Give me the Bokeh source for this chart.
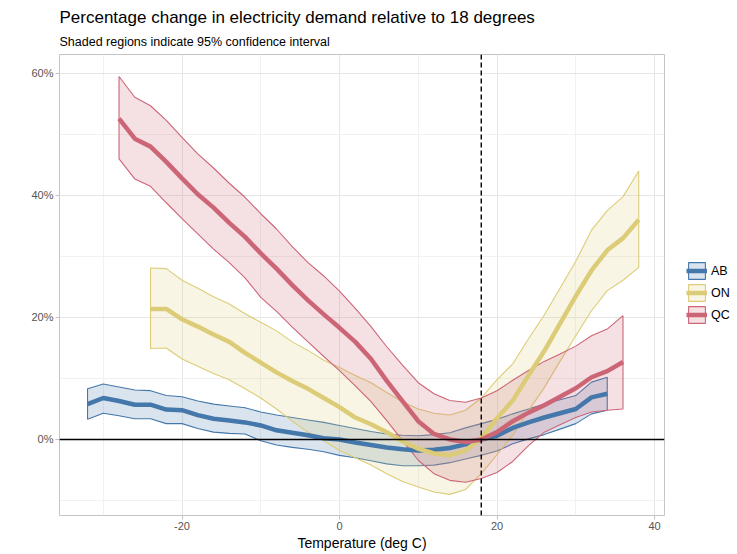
from bokeh.plotting import figure
from bokeh.models import (FixedTicker, PrintfTickFormatter, Span, Legend, LegendItem, Title)
from bokeh.embed import file_html
from bokeh.resources import INLINE

# ---------------- data ----------------
ab_temp = [-32, -30, -28, -26, -24, -22, -20, -18, -16, -14, -12, -10, -8, -6, -4, -2, 0,
           2, 4, 6, 8, 10, 12, 14, 16, 18, 20, 22, 24, 26, 28, 30, 32, 34]
ab_mean = [5.8, 6.8, 6.3, 5.7, 5.7, 4.9, 4.8, 4.0, 3.4, 3.1, 2.8, 2.3, 1.5, 1.1, 0.7, 0.2, 0.0,
           -0.5, -0.9, -1.3, -1.6, -1.8, -1.7, -1.4, -0.8, 0.0, 0.6, 1.9, 2.8, 3.6, 4.3, 5.0, 6.9, 7.5]
ab_upper = [8.3, 9.1, 8.6, 8.1, 8.0, 7.2, 7.0, 6.3, 5.8, 5.5, 5.2, 4.5, 4.0, 3.6, 3.2, 2.8, 2.3,
            1.8, 1.3, 0.9, 0.7, 0.6, 0.8, 1.1, 1.9, 2.6, 3.3, 4.2, 5.0, 5.8, 6.5, 7.2, 9.4, 10.2]
ab_lower = [3.3, 4.3, 3.9, 3.4, 3.4, 2.6, 2.6, 1.8, 1.2, 1.0, 0.9, -0.2, -0.9, -1.3, -1.6, -2.0, -2.6,
            -3.0, -3.5, -4.0, -4.3, -4.3, -4.2, -3.8, -3.2, -2.6, -1.9, -0.7, 0.1, 0.8, 1.7, 2.6, 4.2, 4.8]

on_temp = [-24, -22, -20, -18, -16, -14, -12, -10, -8, -6, -4, -2, 0,
           2, 4, 6, 8, 10, 12, 14, 16, 18, 20, 22, 24, 26, 28, 30, 32, 34, 36, 38]
on_mean = [21.4, 21.4, 19.7, 18.5, 17.2, 16.0, 14.2, 12.6, 11.0, 9.6, 8.3, 6.8, 5.3,
           3.6, 2.5, 1.2, -0.3, -1.5, -2.3, -2.6, -1.8, 0.2, 3.5, 6.4, 10.5, 14.5, 19.0, 23.5, 27.7, 31.0, 33.0, 36.0]
on_upper = [28.1, 28.0, 26.1, 24.8, 23.4, 22.2, 20.6, 19.2, 17.8, 16.0, 14.6, 13.0, 11.8,
            10.5, 9.3, 7.7, 6.2, 5.0, 4.3, 4.0, 4.8, 6.8, 9.8, 12.4, 16.5, 20.4, 24.8, 29.2, 34.3, 37.5, 39.8, 44.0]
on_lower = [14.9, 15.0, 13.2, 12.0, 10.8, 9.8, 8.3, 6.8, 5.0, 3.0, 1.2, -0.2, -1.8,
            -3.0, -4.2, -5.6, -6.9, -7.8, -8.6, -9.0, -8.2, -5.6, -2.5, 0.7, 4.7, 8.5, 12.8, 17.0, 21.1, 24.4, 26.1, 28.2]

qc_temp = [-28, -26, -24, -22, -20, -18, -16, -14, -12, -10, -8, -6, -4, -2, 0,
           2, 4, 6, 8, 10, 12, 14, 16, 18, 20, 22, 24, 26, 28, 30, 32, 34, 36]
qc_mean = [52.6, 49.3, 48.0, 45.5, 42.8, 40.2, 38.0, 35.5, 33.2, 30.5, 28.0, 25.3, 22.8, 20.5, 18.3,
           16.0, 13.2, 9.6, 6.3, 3.0, 0.9, 0.0, -0.4, 0.0, 1.2, 3.0, 4.4, 5.6, 7.0, 8.4, 10.2, 11.2, 12.7]
qc_upper = [59.5, 56.1, 54.7, 52.3, 49.5, 46.8, 44.5, 42.0, 39.7, 37.0, 34.5, 31.6, 29.0, 26.8, 24.3,
            21.5, 18.5, 15.2, 12.2, 9.3, 7.5, 6.4, 6.1, 6.8, 8.0, 9.7, 11.3, 12.8, 14.0, 15.3, 17.0, 18.1, 20.3]
qc_lower = [46.0, 42.7, 41.5, 38.8, 36.2, 33.7, 31.2, 29.0, 26.5, 23.3, 21.0, 18.4, 16.0, 13.6, 11.3,
            8.8, 6.2, 3.1, -0.2, -3.4, -5.6, -6.7, -7.0, -6.4, -5.4, -3.6, -1.0, 1.2, 2.4, 3.6, 4.5, 4.8, 5.0]

regions = ["AB", "ON", "QC"]
colors = ["#4477AA", "#DDCC77", "#CC6677"]

x_ticks = [-20, 0, 20, 40]
x_minor = [-30, -10, 10, 30]
y_ticks = [0, 20, 40, 60]
y_minor = [-10, 10, 30, 50]

reference_temp = 18

# ---------------- figure ----------------
FONT = "Liberation Sans"
p = figure(frame_width=605, frame_height=461, x_range=(-35.56, 41.27), y_range=(-12.46, 63.1),
           output_backend="svg", toolbar_location=None,
           min_border_left=59, min_border_right=72, min_border_top=54, min_border_bottom=38)
p.title = None

p.add_layout(Title(text="Shaded regions indicate 95% confidence interval", text_font=FONT,
                   text_font_size="12.5px", text_font_style="normal", text_color="#000000",
                   standoff=11, offset=0), "above")
p.add_layout(Title(text="Percentage change in electricity demand relative to 18 degrees", text_font=FONT,
                   text_font_size="17px", text_font_style="normal", text_color="#000000",
                   standoff=2, offset=0), "above")

p.background_fill_color = "white"
p.border_fill_color = "white"
p.outline_line_color = "#c4c4c4"
p.outline_line_width = 1

for ax in (p.xaxis[0], p.yaxis[0]):
    ax.axis_line_color = None
    ax.major_tick_line_color = "#c4c4c4"
    ax.major_tick_in = 0
    ax.major_tick_out = 4
    ax.minor_tick_line_color = None
    ax.major_label_text_font = FONT
    ax.major_label_text_font_size = "11px"
    ax.major_label_text_color = "#555555"
    ax.major_label_standoff = 2

p.xaxis.ticker = FixedTicker(ticks=x_ticks, minor_ticks=x_minor)
p.yaxis.ticker = FixedTicker(ticks=y_ticks, minor_ticks=y_minor)
p.xaxis.formatter = PrintfTickFormatter(format="%d")
p.yaxis.formatter = PrintfTickFormatter(format="%d%%")
p.xaxis.axis_label = "Temperature (deg C)"
p.xaxis.axis_label_text_font = FONT
p.xaxis.axis_label_text_font_size = "14px"
p.xaxis.axis_label_text_font_style = "normal"
p.xaxis.axis_label_text_color = "#000000"
p.xaxis.axis_label_standoff = 2

for g in (p.xgrid[0], p.ygrid[0]):
    g.grid_line_color = "#e6e6e6"
    g.grid_line_width = 1
    g.minor_grid_line_color = "#f1f1f1"
    g.minor_grid_line_width = 1

series = [
    (ab_temp, ab_mean, ab_upper, ab_lower),
    (on_temp, on_mean, on_upper, on_lower),
    (qc_temp, qc_mean, qc_upper, qc_lower),
]

patches = []
for (t, m, u, l), c in zip(series, colors):
    xs = list(t) + list(t)[::-1]
    ys = list(u) + list(l)[::-1]
    r = p.patch(xs, ys, fill_color=c, fill_alpha=0.2, line_color=c, line_width=1.1)
    patches.append(r)

lines = []
for (t, m, u, l), c in zip(series, colors):
    r = p.line(t, m, line_color=c, line_width=4.5)
    lines.append(r)

p.add_layout(Span(location=0, dimension="width", line_color="black", line_width=1.4))
p.add_layout(Span(location=reference_temp, dimension="height", line_color="black",
                  line_width=1.4, line_dash="5 3"))

legend = Legend(items=[LegendItem(label=lab, renderers=[pr, lr])
                       for lab, pr, lr in zip(regions, patches, lines)],
                location=(22, 190), orientation="vertical",
                glyph_width=21, glyph_height=21, spacing=1, padding=0, margin=0,
                label_text_font=FONT, label_text_font_size="12.5px", label_text_color="#000000",
                label_standoff=4, border_line_color=None, background_fill_alpha=0)
p.add_layout(legend, "right")

with open("out.html", "w") as f:
    f.write(file_html(p, INLINE))
